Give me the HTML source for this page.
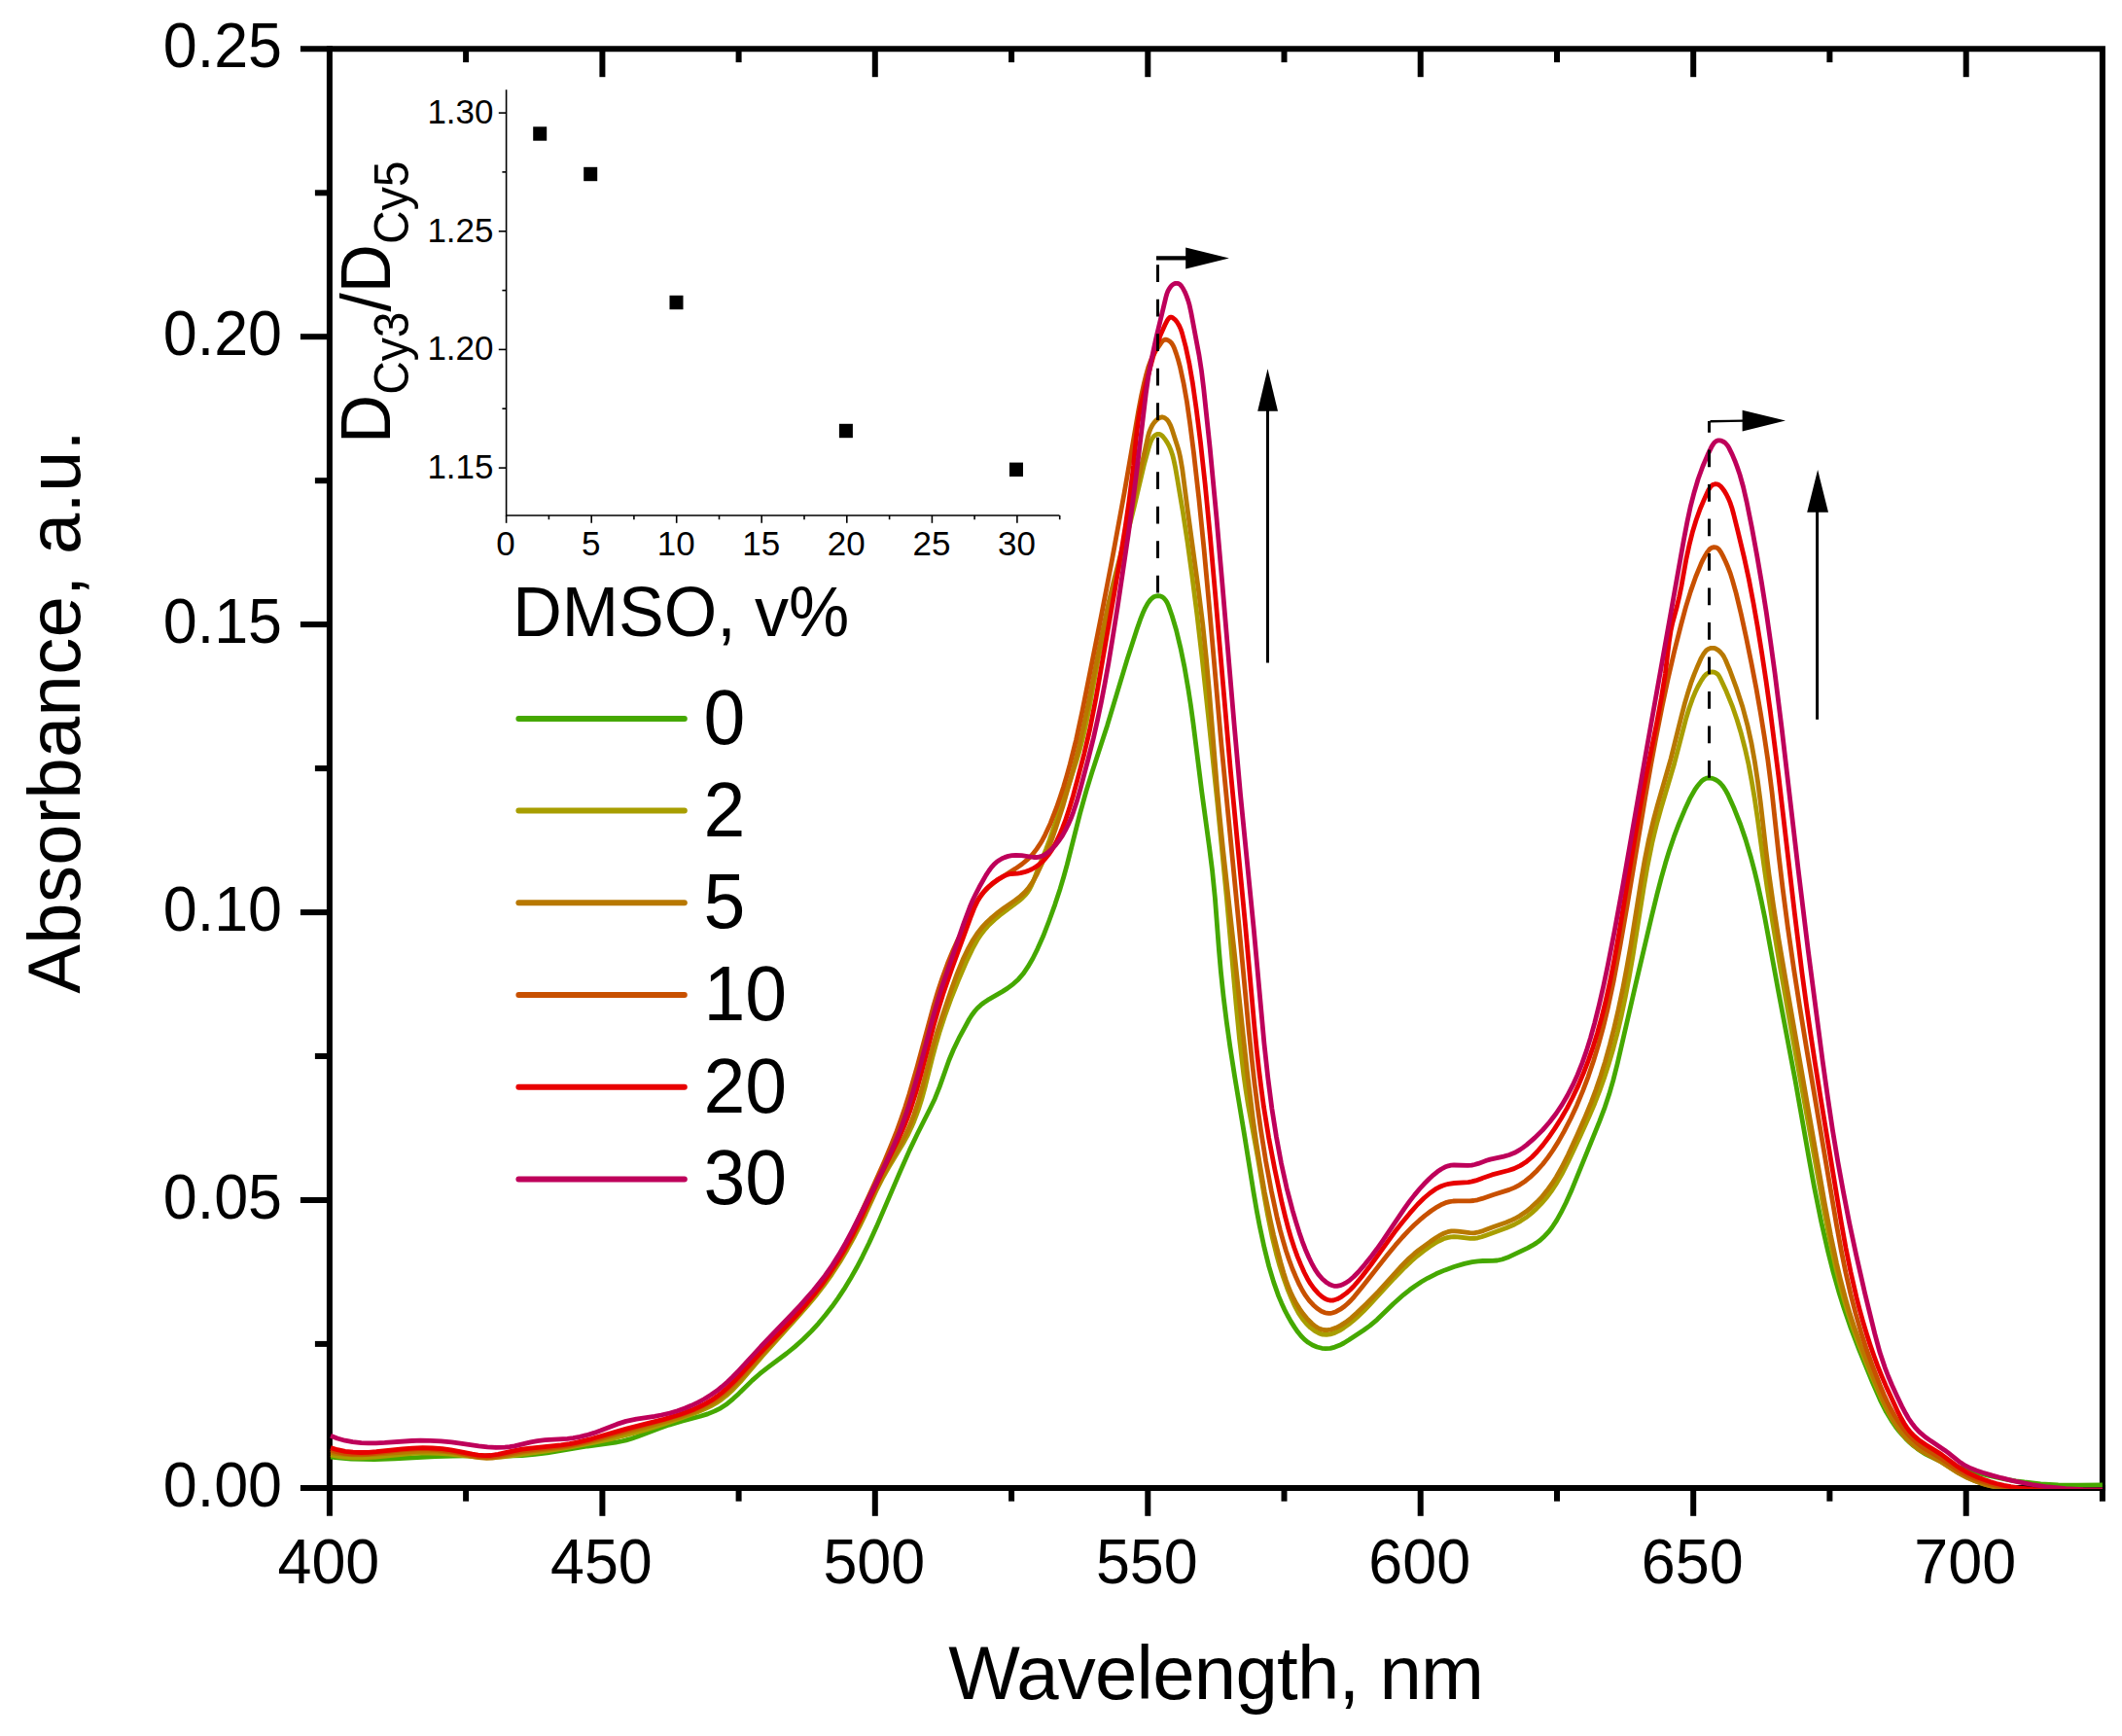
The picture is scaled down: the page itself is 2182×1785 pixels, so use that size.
<!DOCTYPE html>
<html lang="en"><head><meta charset="utf-8"><title>Absorbance spectra</title>
<style>html,body{margin:0;padding:0;background:#fff}svg{display:block}text{font-family:"Liberation Sans",Arial,Helvetica,sans-serif;fill:#000}</style></head><body>
<svg width="2182" height="1785" viewBox="0 0 2182 1785">
<rect width="2182" height="1785" fill="#fff"/>
<g stroke="#000" stroke-width="6.0" fill="none" stroke-linecap="butt">
<path d="M308.9 50.3 H2161.9 V1543.7"/>
<path d="M338.9 47.3 V1558.8"/>
<path d="M308.9 1529.9 H2164.9"/>
<path d="M479.1 1529.9 v13.8"/>
<path d="M479.1 50.3 v13.8"/>
<path d="M619.4 1529.9 v28.9"/>
<path d="M619.4 50.3 v28.9"/>
<path d="M759.6 1529.9 v13.8"/>
<path d="M759.6 50.3 v13.8"/>
<path d="M899.8 1529.9 v28.9"/>
<path d="M899.8 50.3 v28.9"/>
<path d="M1040.1 1529.9 v13.8"/>
<path d="M1040.1 50.3 v13.8"/>
<path d="M1180.3 1529.9 v28.9"/>
<path d="M1180.3 50.3 v28.9"/>
<path d="M1320.5 1529.9 v13.8"/>
<path d="M1320.5 50.3 v13.8"/>
<path d="M1460.7 1529.9 v28.9"/>
<path d="M1460.7 50.3 v28.9"/>
<path d="M1601.0 1529.9 v13.8"/>
<path d="M1601.0 50.3 v13.8"/>
<path d="M1741.2 1529.9 v28.9"/>
<path d="M1741.2 50.3 v28.9"/>
<path d="M1881.4 1529.9 v13.8"/>
<path d="M1881.4 50.3 v13.8"/>
<path d="M2021.7 1529.9 v28.9"/>
<path d="M2021.7 50.3 v28.9"/>
<path d="M338.9 1381.9 h-15.0"/>
<path d="M338.9 1234.0 h-30.0"/>
<path d="M338.9 1086.0 h-15.0"/>
<path d="M338.9 938.1 h-30.0"/>
<path d="M338.9 790.1 h-15.0"/>
<path d="M338.9 642.1 h-30.0"/>
<path d="M338.9 494.2 h-15.0"/>
<path d="M338.9 346.2 h-30.0"/>
<path d="M338.9 198.3 h-15.0"/>
</g>
<text transform="translate(337.9 1628.0) scale(1 1.04)" font-size="62.8" text-anchor="middle">400</text>
<text transform="translate(618.4 1628.0) scale(1 1.04)" font-size="62.8" text-anchor="middle">450</text>
<text transform="translate(898.8 1628.0) scale(1 1.04)" font-size="62.8" text-anchor="middle">500</text>
<text transform="translate(1179.3 1628.0) scale(1 1.04)" font-size="62.8" text-anchor="middle">550</text>
<text transform="translate(1459.7 1628.0) scale(1 1.04)" font-size="62.8" text-anchor="middle">600</text>
<text transform="translate(1740.2 1628.0) scale(1 1.04)" font-size="62.8" text-anchor="middle">650</text>
<text transform="translate(2020.7 1628.0) scale(1 1.04)" font-size="62.8" text-anchor="middle">700</text>
<text transform="translate(290.0 1548.8) scale(1 1.04)" font-size="62.8" text-anchor="end">0.00</text>
<text transform="translate(290.0 1252.9) scale(1 1.04)" font-size="62.8" text-anchor="end">0.05</text>
<text transform="translate(290.0 957.0) scale(1 1.04)" font-size="62.8" text-anchor="end">0.10</text>
<text transform="translate(290.0 661.0) scale(1 1.04)" font-size="62.8" text-anchor="end">0.15</text>
<text transform="translate(290.0 365.1) scale(1 1.04)" font-size="62.8" text-anchor="end">0.20</text>
<text transform="translate(290.0 69.2) scale(1 1.04)" font-size="62.8" text-anchor="end">0.25</text>
<text transform="translate(975.2 1746.9)" font-size="78" textLength="550.8" lengthAdjust="spacing">Wavelength, nm</text>
<text transform="translate(81.9 1021.7) rotate(-90)" font-size="76" textLength="579.3" lengthAdjust="spacing">Absorbance, a.u.</text>
<defs><clipPath id="cp"><rect x="338.9" y="50.3" width="1823.0" height="1480.4"/></clipPath></defs>
<g fill="none" stroke-width="4.8" stroke-linejoin="round" stroke-linecap="butt" clip-path="url(#cp)">
<path stroke="#45a800" d="M340.0 1498.0 L350.0 1499.1 L361.1 1500.0 L373.1 1500.4 L385.0 1500.5 L406.0 1499.9 L447.9 1497.7 L465.9 1497.0 L480.9 1496.9 L518.0 1497.0 L536.9 1496.5 L549.9 1495.4 L562.7 1493.8 L604.2 1487.0 L633.0 1483.1 L638.9 1482.0 L643.7 1480.9 L649.4 1479.2 L655.1 1477.3 L677.6 1468.7 L688.0 1465.1 L700.4 1461.4 L720.0 1456.2 L727.7 1453.9 L735.0 1450.9 L741.1 1447.8 L747.7 1443.4 L753.8 1438.3 L759.7 1432.9 L773.5 1419.4 L781.1 1412.7 L789.8 1405.9 L809.0 1391.5 L817.5 1384.6 L825.7 1377.3 L834.2 1368.9 L841.6 1360.8 L848.7 1352.3 L855.5 1343.6 L861.9 1334.6 L868.0 1325.4 L874.3 1315.1 L880.7 1303.8 L886.7 1292.3 L893.7 1278.0 L901.2 1261.6 L925.6 1204.6 L935.3 1182.6 L943.5 1165.5 L956.1 1140.5 L961.3 1129.7 L966.1 1117.6 L975.8 1090.2 L980.4 1079.2 L986.9 1065.8 L996.6 1048.0 L999.3 1043.7 L1002.3 1039.7 L1004.9 1036.7 L1008.5 1033.4 L1011.6 1031.0 L1015.8 1028.2 L1030.6 1019.6 L1035.7 1016.4 L1042.1 1011.6 L1047.2 1006.9 L1052.4 1000.9 L1056.9 994.2 L1062.0 985.5 L1066.9 975.6 L1072.6 962.8 L1078.7 947.0 L1084.8 930.1 L1090.1 913.9 L1093.8 901.5 L1097.3 888.9 L1110.5 836.6 L1116.9 813.5 L1122.8 794.4 L1138.6 745.9 L1159.1 677.9 L1168.6 648.4 L1172.5 637.2 L1175.1 630.6 L1177.6 625.1 L1180.2 620.4 L1182.7 617.0 L1184.8 614.9 L1186.4 613.8 L1188.1 613.1 L1190.8 612.6 L1192.5 612.8 L1195.1 613.8 L1196.6 614.9 L1198.5 617.0 L1200.1 619.6 L1201.4 622.4 L1205.2 633.2 L1209.5 647.7 L1213.9 666.1 L1218.1 686.6 L1221.8 708.2 L1224.4 725.0 L1227.0 743.8 L1235.8 814.4 L1243.5 870.9 L1246.5 894.6 L1249.4 923.5 L1253.4 976.4 L1255.4 999.3 L1258.1 1025.1 L1261.3 1050.9 L1264.9 1076.7 L1269.7 1107.3 L1280.0 1169.5 L1289.0 1225.8 L1292.2 1244.5 L1295.2 1260.2 L1300.0 1282.7 L1304.8 1302.1 L1309.7 1318.4 L1314.7 1332.6 L1317.8 1339.9 L1320.7 1346.3 L1323.9 1352.5 L1327.3 1358.6 L1331.1 1364.6 L1334.5 1369.6 L1337.7 1373.5 L1341.2 1377.1 L1345.1 1380.3 L1349.5 1383.0 L1354.2 1385.0 L1359.2 1386.3 L1363.1 1386.7 L1368.0 1386.3 L1372.7 1385.1 L1377.3 1383.3 L1381.8 1381.0 L1387.0 1377.8 L1402.2 1367.7 L1408.6 1363.1 L1416.1 1356.8 L1432.6 1340.7 L1443.2 1331.3 L1449.5 1326.3 L1455.2 1322.2 L1461.9 1317.8 L1467.9 1314.3 L1476.7 1309.8 L1485.9 1305.9 L1495.2 1302.5 L1505.8 1299.4 L1513.7 1297.6 L1519.7 1296.8 L1524.7 1296.5 L1534.7 1296.4 L1539.6 1296.0 L1544.4 1295.0 L1550.0 1293.1 L1571.1 1283.1 L1575.5 1280.7 L1579.7 1278.1 L1583.7 1275.2 L1588.1 1271.2 L1592.1 1266.9 L1595.8 1262.2 L1600.8 1254.6 L1605.2 1246.7 L1610.2 1236.7 L1615.6 1224.8 L1644.5 1153.6 L1650.2 1138.6 L1654.6 1125.3 L1658.8 1110.9 L1663.2 1093.5 L1682.5 1009.6 L1698.3 942.5 L1704.0 919.1 L1708.3 902.7 L1712.6 887.3 L1716.7 873.9 L1721.2 860.7 L1726.5 846.7 L1732.3 832.8 L1738.2 820.1 L1742.7 812.2 L1745.0 808.8 L1747.7 805.5 L1749.8 803.2 L1751.4 801.9 L1753.1 800.9 L1754.8 800.2 L1756.6 799.9 L1759.4 800.1 L1762.1 800.8 L1764.6 802.0 L1766.9 803.5 L1769.0 805.4 L1770.9 807.5 L1772.7 809.9 L1774.8 813.3 L1776.8 817.0 L1783.2 831.3 L1789.6 847.5 L1795.1 863.6 L1800.4 881.5 L1804.2 895.9 L1807.7 910.4 L1811.1 926.0 L1814.7 943.6 L1828.4 1017.7 L1846.0 1110.8 L1860.4 1192.6 L1865.5 1220.2 L1872.8 1256.5 L1879.9 1287.7 L1885.1 1308.1 L1890.8 1328.2 L1896.5 1346.3 L1902.7 1364.3 L1912.0 1388.6 L1925.6 1421.8 L1933.3 1439.3 L1939.6 1451.8 L1945.8 1462.0 L1949.2 1467.0 L1952.3 1470.9 L1956.2 1475.5 L1959.6 1479.2 L1964.0 1483.4 L1967.7 1486.6 L1971.7 1489.7 L1975.8 1492.5 L1980.0 1495.1 L1984.4 1497.4 L1994.4 1502.0 L2006.7 1506.4 L2025.9 1512.4 L2044.3 1517.2 L2062.8 1521.1 L2072.7 1522.8 L2081.6 1524.0 L2098.4 1525.8 L2116.4 1526.9 L2136.4 1527.2 L2162.4 1526.8"/>
<path stroke="#a89e00" d="M340.0 1496.0 L347.1 1497.4 L355.1 1498.3 L363.1 1498.8 L371.1 1498.8 L386.0 1498.0 L411.9 1495.5 L421.9 1494.7 L430.9 1494.2 L440.9 1494.1 L450.9 1494.4 L461.9 1495.1 L487.8 1497.9 L495.7 1498.5 L504.7 1498.6 L515.6 1498.0 L537.5 1495.3 L564.3 1491.6 L587.0 1487.8 L607.6 1484.0 L627.1 1479.8 L645.5 1475.2 L663.8 1470.1 L682.0 1464.5 L694.4 1460.3 L707.6 1455.6 L717.1 1452.0 L724.4 1448.9 L730.7 1445.8 L736.7 1442.4 L741.6 1439.2 L747.0 1434.9 L753.6 1428.9 L761.2 1420.9 L783.6 1394.7 L821.2 1353.0 L830.4 1342.5 L838.0 1333.4 L847.2 1321.6 L855.3 1310.3 L863.5 1297.7 L871.2 1284.7 L878.0 1272.4 L884.4 1259.8 L890.1 1248.1 L900.9 1224.5 L907.1 1212.1 L913.5 1200.8 L929.5 1174.2 L933.8 1166.3 L937.2 1159.1 L939.9 1152.7 L942.4 1146.2 L945.1 1138.6 L947.5 1131.0 L951.5 1116.5 L958.8 1087.2 L962.2 1074.6 L966.4 1060.2 L971.4 1045.0 L977.8 1027.2 L985.2 1008.6 L994.3 987.4 L1000.9 973.8 L1004.8 966.8 L1008.6 961.0 L1012.8 955.5 L1017.5 950.4 L1022.6 945.7 L1028.0 941.2 L1047.4 926.6 L1051.2 923.4 L1053.9 920.6 L1056.4 917.6 L1058.6 914.3 L1060.9 909.9 L1062.9 905.3 L1067.5 892.9 L1075.5 873.6 L1079.3 863.4 L1101.9 798.0 L1106.5 783.8 L1110.2 771.4 L1113.7 757.9 L1117.2 742.3 L1120.1 727.5 L1128.9 679.2 L1133.3 657.7 L1138.2 635.3 L1146.9 598.3 L1166.1 521.6 L1176.6 477.0 L1180.9 461.4 L1182.7 455.5 L1183.9 452.6 L1185.5 449.9 L1187.5 447.7 L1189.1 446.7 L1189.9 446.4 L1191.6 446.3 L1193.2 446.8 L1195.5 448.5 L1198.1 451.7 L1200.3 455.1 L1202.2 458.6 L1204.1 463.2 L1205.7 467.9 L1206.9 472.8 L1208.4 479.7 L1210.5 491.6 L1216.3 526.2 L1221.1 557.7 L1225.6 590.4 L1230.9 632.0 L1236.3 678.7 L1242.5 736.4 L1251.8 824.9 L1261.4 923.4 L1271.2 1034.1 L1274.6 1068.9 L1278.8 1104.7 L1281.0 1120.5 L1283.5 1136.3 L1293.2 1189.4 L1300.4 1231.8 L1303.6 1249.5 L1308.0 1271.1 L1312.5 1289.5 L1316.0 1302.1 L1319.7 1313.5 L1323.7 1324.8 L1327.9 1335.0 L1331.6 1343.2 L1335.3 1350.2 L1339.2 1356.0 L1343.1 1360.8 L1347.6 1365.2 L1351.8 1368.4 L1356.4 1370.9 L1360.1 1372.1 L1364.0 1372.4 L1367.8 1371.9 L1372.6 1370.4 L1377.3 1368.1 L1381.6 1365.4 L1386.6 1361.9 L1391.2 1358.2 L1395.7 1354.2 L1402.2 1348.0 L1408.4 1341.5 L1433.6 1314.2 L1444.7 1302.9 L1451.2 1296.7 L1457.2 1291.5 L1463.5 1286.6 L1470.1 1281.8 L1475.2 1278.5 L1479.7 1276.0 L1484.3 1273.8 L1488.1 1272.6 L1492.0 1271.8 L1494.9 1271.7 L1498.9 1271.9 L1511.8 1273.4 L1515.8 1273.4 L1519.6 1272.8 L1523.5 1271.8 L1527.3 1270.5 L1549.1 1262.5 L1557.3 1259.0 L1563.4 1255.6 L1569.2 1251.8 L1574.8 1247.4 L1580.0 1242.7 L1584.9 1237.6 L1590.2 1231.5 L1595.0 1225.1 L1599.9 1217.7 L1606.0 1207.3 L1612.3 1194.9 L1625.1 1167.7 L1633.8 1148.5 L1639.7 1134.7 L1644.8 1121.6 L1649.5 1108.5 L1654.1 1094.2 L1658.9 1078.0 L1663.2 1061.6 L1667.3 1044.1 L1671.4 1024.5 L1675.0 1005.8 L1678.8 984.1 L1690.0 913.8 L1693.9 891.2 L1698.8 866.8 L1701.3 856.1 L1704.0 845.5 L1708.3 830.1 L1721.7 785.0 L1733.8 738.5 L1737.0 728.0 L1740.3 718.7 L1742.9 712.3 L1745.9 706.0 L1749.5 699.6 L1752.5 695.2 L1754.7 693.0 L1757.2 691.6 L1760.0 690.9 L1762.7 691.2 L1764.4 691.9 L1765.9 692.9 L1767.1 694.3 L1768.7 696.9 L1775.1 710.8 L1781.2 725.8 L1786.1 740.0 L1790.4 754.3 L1794.4 769.8 L1798.1 786.3 L1801.2 803.0 L1804.2 820.7 L1807.4 842.5 L1813.9 890.1 L1817.3 913.9 L1822.9 949.5 L1829.7 989.9 L1839.3 1044.0 L1875.5 1243.8 L1881.4 1274.3 L1887.1 1300.6 L1891.6 1319.1 L1896.0 1335.5 L1900.9 1351.7 L1905.9 1366.9 L1912.1 1383.8 L1919.1 1401.5 L1930.0 1427.4 L1936.5 1442.0 L1940.1 1449.1 L1943.4 1455.3 L1946.9 1461.3 L1950.8 1467.2 L1954.9 1472.8 L1958.7 1477.4 L1962.9 1481.8 L1966.5 1485.2 L1971.2 1488.9 L1975.3 1491.7 L1979.7 1494.2 L1993.9 1501.7 L1999.0 1504.9 L2008.9 1511.5 L2013.9 1514.6 L2021.9 1518.9 L2030.2 1522.6 L2039.7 1525.9 L2049.4 1528.5 L2060.2 1530.4 L2072.0 1531.6 L2081.0 1532.1 L2091.0 1532.3 L2118.0 1532.3 L2148.0 1532.6 L2162.0 1532.5"/>
<path stroke="#b87800" d="M340.0 1493.5 L347.0 1494.6 L355.0 1495.4 L363.0 1495.8 L372.0 1495.8 L388.0 1495.2 L427.9 1492.4 L438.8 1492.0 L448.8 1492.1 L457.7 1492.7 L466.7 1493.7 L473.7 1494.9 L487.6 1497.8 L494.5 1498.9 L500.5 1499.3 L506.4 1499.0 L514.3 1497.9 L529.1 1494.8 L537.0 1493.4 L548.0 1491.9 L577.7 1488.3 L586.6 1486.8 L596.4 1484.9 L613.9 1480.7 L671.8 1465.1 L686.2 1461.0 L697.7 1457.4 L706.3 1454.5 L714.8 1451.3 L722.2 1448.2 L728.5 1445.1 L734.6 1441.7 L739.5 1438.4 L744.3 1434.9 L749.5 1430.4 L755.3 1424.9 L762.1 1417.6 L785.3 1390.9 L822.9 1349.3 L831.3 1339.4 L838.9 1330.2 L848.1 1318.4 L856.7 1306.2 L864.8 1293.5 L872.9 1279.7 L879.2 1268.2 L885.5 1255.6 L901.2 1222.2 L906.9 1210.6 L912.6 1200.0 L927.5 1173.9 L931.1 1166.8 L934.5 1159.6 L937.2 1153.2 L939.7 1146.6 L944.3 1132.4 L948.4 1118.0 L958.9 1077.1 L963.2 1062.6 L968.4 1046.4 L978.3 1017.2 L984.1 1001.3 L990.2 986.4 L995.9 974.6 L1000.3 966.7 L1004.7 960.0 L1009.6 953.7 L1015.0 948.0 L1020.1 943.3 L1026.3 938.2 L1031.9 934.0 L1043.6 925.9 L1049.2 921.6 L1053.6 917.6 L1057.5 913.2 L1062.0 906.7 L1066.3 898.8 L1072.3 886.0 L1078.1 872.2 L1082.0 861.9 L1085.6 851.5 L1093.3 827.7 L1100.7 801.8 L1107.7 774.7 L1112.9 752.3 L1118.1 727.9 L1133.7 649.4 L1139.9 620.0 L1145.7 595.7 L1156.5 554.2 L1160.9 536.7 L1180.5 448.6 L1181.6 444.7 L1183.0 441.0 L1184.8 437.4 L1186.4 435.0 L1188.3 432.7 L1190.5 430.7 L1193.0 429.3 L1194.7 428.9 L1195.6 429.0 L1197.3 429.5 L1199.6 431.1 L1201.6 433.6 L1203.6 437.4 L1205.4 442.2 L1210.3 457.4 L1212.3 464.2 L1213.6 470.0 L1215.8 482.7 L1220.9 522.4 L1232.4 606.7 L1236.8 642.4 L1240.4 677.2 L1243.6 713.0 L1251.5 810.7 L1254.3 840.6 L1257.6 873.4 L1268.8 974.8 L1278.3 1064.3 L1282.7 1104.1 L1288.7 1152.7 L1291.8 1174.5 L1294.9 1194.2 L1300.3 1225.7 L1306.3 1255.1 L1309.6 1269.8 L1313.0 1283.4 L1316.8 1297.9 L1319.9 1308.6 L1322.3 1316.2 L1325.0 1323.7 L1327.7 1330.1 L1330.3 1335.5 L1333.2 1340.8 L1336.4 1345.9 L1339.9 1350.8 L1343.8 1355.6 L1348.9 1360.8 L1352.9 1364.0 L1355.5 1365.5 L1357.2 1366.4 L1360.9 1367.5 L1364.7 1367.7 L1368.7 1367.1 L1373.7 1365.3 L1378.5 1362.9 L1383.7 1359.6 L1389.2 1355.3 L1395.1 1350.1 L1405.1 1340.5 L1417.7 1327.6 L1439.9 1303.0 L1449.0 1293.8 L1454.2 1289.2 L1458.8 1285.4 L1470.9 1276.6 L1476.9 1272.5 L1481.3 1269.9 L1485.0 1268.0 L1488.7 1266.7 L1492.5 1265.9 L1495.4 1265.8 L1499.3 1266.1 L1511.4 1267.7 L1515.4 1267.8 L1519.3 1267.2 L1525.0 1265.6 L1536.4 1261.2 L1548.7 1256.9 L1553.3 1255.1 L1557.8 1253.0 L1563.0 1250.1 L1568.9 1246.1 L1574.4 1241.6 L1580.3 1236.1 L1585.8 1230.3 L1590.8 1224.1 L1595.4 1217.7 L1600.3 1210.2 L1606.2 1199.8 L1612.5 1187.2 L1621.8 1167.1 L1630.2 1147.9 L1636.3 1133.1 L1641.2 1120.0 L1646.0 1105.9 L1650.5 1091.6 L1655.4 1074.2 L1659.8 1056.8 L1664.1 1038.2 L1668.5 1017.6 L1672.8 995.0 L1677.0 971.4 L1687.9 903.3 L1691.2 884.5 L1695.5 863.0 L1700.4 842.6 L1704.3 828.2 L1718.1 780.1 L1729.0 736.3 L1732.3 723.7 L1735.9 711.4 L1739.2 701.1 L1742.3 692.8 L1745.8 684.4 L1749.3 676.6 L1752.0 671.9 L1754.5 668.8 L1756.8 667.2 L1759.5 666.3 L1762.2 666.3 L1764.0 666.9 L1766.6 668.4 L1768.9 670.4 L1770.9 672.7 L1772.6 675.2 L1774.4 678.8 L1778.7 689.0 L1786.0 708.9 L1791.9 727.0 L1796.8 745.3 L1801.1 764.8 L1804.4 783.4 L1807.4 803.2 L1810.3 825.0 L1816.1 875.7 L1819.1 899.6 L1823.6 931.3 L1829.0 965.8 L1836.4 1009.2 L1876.2 1236.8 L1882.5 1270.3 L1888.5 1298.7 L1892.9 1317.2 L1897.5 1334.5 L1902.2 1350.8 L1907.2 1365.9 L1912.9 1381.8 L1920.1 1400.4 L1931.5 1428.4 L1938.0 1443.3 L1941.5 1450.5 L1944.8 1456.7 L1948.4 1462.7 L1951.6 1467.7 L1955.1 1472.4 L1958.8 1477.0 L1962.8 1481.2 L1967.2 1485.2 L1971.8 1488.9 L1976.0 1491.8 L1993.8 1501.8 L2012.9 1514.0 L2021.7 1518.7 L2031.0 1522.8 L2040.5 1526.1 L2050.2 1528.6 L2061.0 1530.5 L2071.9 1531.6 L2080.8 1532.1 L2090.8 1532.3 L2117.9 1532.3 L2148.9 1532.6 L2162.9 1532.4"/>
<path stroke="#c85000" d="M340.0 1491.0 L347.0 1493.0 L354.1 1494.3 L362.1 1495.1 L370.1 1495.2 L377.0 1495.0 L385.0 1494.3 L410.9 1491.2 L420.8 1490.3 L429.8 1489.8 L439.7 1489.9 L449.7 1490.6 L460.7 1492.0 L469.6 1493.5 L485.6 1496.7 L491.5 1497.7 L498.4 1498.2 L505.3 1497.9 L513.2 1496.7 L527.9 1493.5 L536.8 1491.9 L547.8 1490.5 L577.6 1487.2 L586.5 1485.8 L596.2 1483.9 L605.0 1481.8 L615.6 1479.0 L649.2 1469.2 L688.7 1458.2 L701.1 1454.4 L708.7 1451.7 L715.2 1449.1 L721.6 1446.1 L727.9 1442.8 L733.9 1439.2 L738.8 1435.9 L744.3 1431.6 L749.5 1427.0 L754.5 1422.2 L760.0 1416.5 L782.8 1391.0 L819.8 1351.3 L832.9 1336.2 L843.3 1323.0 L850.8 1312.5 L857.8 1301.6 L864.8 1289.5 L872.2 1275.2 L881.8 1255.3 L900.1 1215.1 L909.4 1194.1 L917.1 1175.7 L922.2 1162.8 L926.6 1150.6 L930.8 1138.3 L935.0 1125.0 L942.8 1098.0 L959.5 1036.0 L964.3 1019.7 L969.0 1005.5 L974.5 990.5 L980.2 976.7 L984.4 967.6 L993.3 949.6 L1000.1 934.9 L1003.9 927.9 L1007.7 922.1 L1012.1 916.8 L1016.9 911.9 L1021.5 908.1 L1026.3 904.5 L1044.3 893.1 L1050.9 888.5 L1057.0 883.4 L1059.7 880.7 L1062.9 877.0 L1065.9 873.1 L1069.2 868.2 L1071.8 863.9 L1074.6 858.6 L1080.1 846.7 L1086.3 830.7 L1089.9 820.2 L1093.7 808.8 L1097.1 797.2 L1100.3 785.7 L1106.6 760.5 L1113.1 730.3 L1132.4 633.2 L1143.2 577.2 L1156.0 507.4 L1170.8 421.7 L1173.6 407.0 L1176.4 394.3 L1178.8 384.6 L1180.7 377.9 L1182.7 372.3 L1185.1 366.8 L1188.5 360.7 L1194.4 351.8 L1196.4 349.8 L1197.9 349.1 L1198.7 349.1 L1200.4 349.5 L1202.9 351.0 L1204.4 352.4 L1206.1 355.0 L1207.4 357.7 L1209.5 363.6 L1211.6 370.3 L1213.4 377.1 L1217.0 393.7 L1220.5 413.3 L1223.6 435.1 L1227.5 465.8 L1232.8 512.6 L1238.1 565.3 L1242.5 613.1 L1255.9 765.5 L1273.5 946.6 L1284.1 1059.2 L1287.1 1088.1 L1290.0 1113.9 L1293.2 1138.7 L1296.4 1161.4 L1301.6 1193.9 L1307.3 1224.4 L1313.4 1252.9 L1316.3 1264.6 L1319.2 1275.2 L1322.3 1285.7 L1325.5 1295.2 L1328.9 1304.5 L1332.4 1312.8 L1336.1 1320.9 L1339.3 1327.0 L1342.5 1332.2 L1346.1 1337.1 L1350.3 1341.7 L1354.3 1345.3 L1358.7 1348.2 L1362.4 1349.7 L1364.3 1350.2 L1366.2 1350.4 L1368.1 1350.3 L1370.0 1350.0 L1373.8 1348.7 L1378.3 1346.2 L1381.7 1343.8 L1385.6 1340.5 L1389.2 1337.0 L1392.5 1333.3 L1400.7 1323.3 L1426.7 1290.3 L1435.0 1280.2 L1442.2 1272.0 L1448.4 1265.4 L1454.0 1259.8 L1459.9 1254.4 L1465.3 1249.9 L1471.7 1245.0 L1477.7 1241.1 L1483.0 1238.2 L1487.6 1236.3 L1490.5 1235.6 L1494.4 1235.0 L1499.3 1234.8 L1511.4 1234.9 L1515.4 1234.5 L1519.3 1233.8 L1524.1 1232.4 L1535.5 1228.5 L1551.8 1223.4 L1557.3 1221.1 L1562.6 1218.3 L1568.4 1214.4 L1574.6 1209.3 L1580.4 1203.7 L1586.4 1197.0 L1591.9 1189.9 L1597.0 1182.5 L1602.4 1173.9 L1608.3 1163.4 L1615.2 1150.0 L1621.5 1136.4 L1627.6 1121.7 L1633.2 1106.8 L1638.6 1090.8 L1643.5 1074.6 L1648.3 1057.2 L1652.8 1038.8 L1659.1 1009.3 L1665.7 973.8 L1673.3 930.3 L1691.9 818.9 L1697.6 786.4 L1702.9 758.0 L1709.1 726.6 L1715.3 697.3 L1721.6 670.0 L1728.2 643.8 L1733.4 624.4 L1738.4 608.1 L1743.7 593.0 L1749.0 580.1 L1751.1 575.6 L1753.5 571.2 L1755.7 567.6 L1757.6 565.1 L1759.0 563.8 L1760.7 563.0 L1762.4 562.6 L1764.2 562.8 L1765.9 563.4 L1767.9 565.3 L1769.6 567.8 L1771.6 571.6 L1774.3 577.2 L1776.7 582.8 L1779.2 589.4 L1781.3 596.1 L1785.3 610.4 L1790.4 631.7 L1795.5 655.2 L1800.9 681.7 L1806.0 708.3 L1810.3 732.9 L1814.3 757.6 L1817.8 781.2 L1822.1 814.9 L1829.3 881.6 L1833.1 913.4 L1838.3 953.1 L1844.6 996.6 L1850.6 1035.1 L1857.7 1078.5 L1888.6 1260.1 L1893.3 1285.7 L1898.1 1309.2 L1903.0 1330.6 L1908.2 1350.8 L1913.7 1369.9 L1919.5 1387.9 L1926.3 1406.7 L1933.3 1424.6 L1937.2 1433.9 L1940.6 1441.3 L1944.2 1448.5 L1948.1 1455.5 L1952.4 1462.3 L1956.4 1467.9 L1960.7 1473.3 L1964.7 1477.6 L1971.2 1483.6 L1975.1 1486.7 L1978.4 1489.0 L1995.8 1499.4 L2013.8 1511.7 L2019.0 1514.7 L2025.2 1517.8 L2030.7 1520.3 L2036.4 1522.5 L2042.1 1524.4 L2048.8 1526.4 L2054.7 1527.8 L2061.5 1529.2 L2074.3 1531.0 L2086.2 1532.0 L2100.2 1532.5 L2113.2 1532.6 L2145.3 1532.3 L2162.2 1532.6"/>
<path stroke="#e80000" d="M340.0 1488.6 L347.0 1490.7 L355.0 1492.3 L363.0 1493.2 L371.0 1493.5 L379.0 1493.3 L386.9 1492.7 L413.8 1489.9 L423.8 1489.1 L434.7 1488.7 L444.7 1489.0 L454.7 1489.7 L463.6 1490.9 L471.6 1492.3 L485.6 1495.2 L491.6 1496.2 L498.5 1496.7 L504.4 1496.5 L512.2 1495.3 L527.8 1491.8 L536.7 1490.2 L547.7 1488.8 L576.8 1485.9 L585.7 1484.6 L593.4 1483.1 L608.7 1479.3 L644.1 1469.1 L682.4 1459.4 L698.8 1454.5 L706.4 1451.8 L713.7 1448.9 L720.0 1446.0 L726.1 1442.9 L732.0 1439.4 L736.8 1436.1 L742.3 1431.9 L747.6 1427.3 L756.9 1418.2 L780.9 1391.9 L806.7 1365.4 L816.9 1354.6 L824.2 1346.4 L831.3 1338.0 L838.2 1329.4 L844.3 1321.5 L853.0 1309.3 L861.3 1296.7 L869.0 1283.9 L876.2 1270.7 L886.4 1250.1 L907.4 1204.6 L923.7 1171.4 L930.6 1155.9 L933.5 1148.5 L936.5 1140.1 L942.2 1122.0 L947.0 1104.6 L959.9 1055.1 L965.2 1036.8 L970.2 1020.6 L979.0 995.1 L998.7 941.5 L1002.0 933.2 L1005.0 926.9 L1007.0 923.5 L1009.1 920.2 L1011.5 917.0 L1014.1 914.0 L1017.1 911.2 L1020.2 908.5 L1026.9 903.8 L1032.2 900.9 L1036.6 899.1 L1039.4 898.5 L1046.4 898.1 L1049.4 897.7 L1053.4 896.7 L1057.3 895.4 L1061.0 893.7 L1064.4 891.7 L1067.7 889.5 L1071.4 886.3 L1074.9 882.8 L1078.0 879.0 L1080.9 874.9 L1084.0 869.8 L1086.8 864.4 L1089.4 858.9 L1092.5 851.4 L1095.4 843.9 L1099.5 831.6 L1103.5 818.2 L1107.6 802.9 L1114.9 774.8 L1118.1 761.1 L1121.0 748.4 L1127.1 717.0 L1146.2 607.7 L1152.7 569.2 L1157.3 540.6 L1160.9 515.9 L1163.7 494.1 L1165.6 478.2 L1168.4 449.3 L1169.8 437.4 L1171.4 426.5 L1173.7 414.7 L1177.3 399.1 L1182.7 377.8 L1186.1 365.4 L1189.4 354.9 L1193.7 343.5 L1198.4 333.1 L1200.3 329.4 L1201.4 327.8 L1202.6 326.6 L1203.9 326.1 L1204.6 326.2 L1206.0 326.8 L1208.2 328.6 L1210.6 331.6 L1212.6 335.0 L1214.2 338.6 L1215.5 342.5 L1219.2 356.5 L1223.0 374.3 L1226.4 394.0 L1230.3 421.5 L1234.4 454.2 L1239.2 497.9 L1244.3 550.8 L1249.6 610.6 L1265.1 789.8 L1280.8 954.1 L1289.9 1055.8 L1292.3 1079.7 L1294.6 1100.6 L1297.1 1120.4 L1299.5 1138.2 L1304.6 1169.7 L1310.8 1202.1 L1318.3 1237.4 L1321.6 1251.1 L1324.6 1262.7 L1327.7 1273.3 L1330.8 1282.8 L1334.2 1292.1 L1337.6 1300.4 L1341.2 1308.5 L1344.4 1314.7 L1347.5 1319.9 L1351.1 1324.9 L1355.3 1329.7 L1359.3 1333.2 L1361.9 1335.0 L1363.7 1335.9 L1365.5 1336.6 L1367.3 1337.0 L1369.2 1337.1 L1371.1 1337.0 L1374.9 1335.8 L1379.4 1333.3 L1384.5 1329.6 L1388.3 1326.3 L1391.8 1322.8 L1395.7 1318.3 L1400.7 1312.2 L1409.3 1301.0 L1433.9 1267.1 L1441.8 1257.0 L1449.5 1247.7 L1457.6 1238.5 L1464.2 1232.0 L1470.4 1226.7 L1476.1 1222.7 L1479.6 1220.8 L1483.1 1219.2 L1486.8 1218.0 L1489.6 1217.3 L1495.5 1216.5 L1509.7 1215.6 L1513.6 1214.9 L1517.4 1213.9 L1534.2 1207.9 L1551.0 1203.5 L1556.8 1201.6 L1563.1 1198.6 L1566.4 1196.6 L1569.7 1194.4 L1575.0 1190.0 L1580.6 1184.3 L1586.5 1177.4 L1592.6 1169.3 L1598.9 1160.1 L1605.3 1150.0 L1611.3 1139.6 L1616.8 1129.0 L1622.8 1116.4 L1628.2 1103.6 L1633.2 1090.6 L1638.1 1076.5 L1642.5 1062.1 L1646.8 1046.7 L1650.9 1030.1 L1654.9 1012.4 L1659.4 989.7 L1664.4 962.0 L1680.7 863.5 L1687.0 827.2 L1692.4 798.7 L1703.8 742.6 L1708.3 718.0 L1712.4 692.3 L1716.2 660.6 L1718.0 648.8 L1719.9 640.0 L1724.4 623.5 L1726.7 613.8 L1728.9 603.0 L1733.8 575.5 L1737.4 558.8 L1740.6 546.2 L1744.1 534.8 L1748.1 523.5 L1752.4 513.4 L1756.7 504.0 L1758.9 500.5 L1760.3 499.1 L1761.9 498.2 L1763.6 497.7 L1765.3 497.8 L1766.9 498.3 L1769.2 499.9 L1771.3 502.3 L1773.2 505.0 L1775.4 508.8 L1777.3 512.6 L1779.2 517.2 L1780.8 521.9 L1782.6 528.5 L1787.1 546.6 L1793.4 572.9 L1798.3 595.5 L1803.0 620.1 L1807.3 644.7 L1811.8 672.3 L1816.1 700.9 L1820.4 731.6 L1828.9 798.1 L1845.4 939.2 L1852.9 999.7 L1857.2 1031.4 L1861.5 1061.1 L1866.3 1092.7 L1872.3 1130.2 L1892.9 1254.6 L1898.0 1283.2 L1903.0 1307.7 L1909.0 1334.0 L1912.2 1346.5 L1915.7 1359.1 L1919.4 1371.5 L1923.1 1383.0 L1927.0 1394.3 L1930.8 1404.6 L1934.9 1414.8 L1939.2 1424.9 L1951.8 1452.2 L1955.1 1458.5 L1958.1 1463.7 L1960.8 1467.9 L1963.8 1471.8 L1968.6 1476.8 L1971.6 1479.4 L1974.7 1481.8 L1980.6 1485.7 L1996.1 1495.4 L2012.7 1507.7 L2016.9 1510.4 L2021.2 1513.0 L2026.6 1515.8 L2033.1 1518.7 L2039.7 1521.3 L2046.3 1523.6 L2053.0 1525.5 L2060.8 1527.3 L2067.6 1528.7 L2075.5 1529.9 L2090.3 1531.4 L2107.3 1532.3 L2122.4 1532.5 L2162.3 1532.5"/>
<path stroke="#be005a" d="M340.0 1476.3 L346.9 1479.0 L354.8 1481.2 L362.7 1482.7 L371.6 1483.6 L378.6 1483.9 L386.6 1483.8 L395.6 1483.4 L423.5 1481.5 L432.5 1481.2 L442.5 1481.4 L453.4 1481.9 L464.4 1482.9 L473.4 1484.1 L492.3 1486.8 L501.3 1487.8 L510.3 1488.4 L519.2 1488.2 L524.1 1487.7 L529.0 1486.9 L545.7 1482.8 L552.6 1481.6 L560.5 1480.7 L583.5 1479.4 L589.4 1478.6 L596.3 1477.4 L603.1 1475.7 L610.8 1473.4 L617.4 1471.0 L634.3 1464.4 L643.7 1461.4 L654.4 1459.1 L673.0 1456.3 L679.9 1455.0 L688.8 1453.0 L696.5 1450.7 L704.2 1448.0 L710.7 1445.3 L718.0 1441.8 L724.2 1438.5 L731.0 1434.3 L736.8 1430.3 L742.2 1426.0 L748.2 1420.8 L753.2 1416.0 L758.8 1410.3 L782.4 1384.5 L811.7 1354.0 L822.7 1342.3 L836.6 1326.5 L842.8 1318.7 L848.3 1311.6 L855.7 1301.0 L862.6 1290.1 L869.6 1278.0 L877.1 1263.9 L897.9 1222.6 L908.4 1201.1 L917.2 1182.0 L924.6 1164.6 L928.1 1155.3 L931.8 1144.9 L935.2 1134.5 L938.7 1123.0 L944.9 1100.8 L959.4 1045.6 L963.8 1030.2 L968.2 1015.9 L990.6 950.6 L994.4 940.2 L997.2 932.8 L1000.3 925.5 L1003.3 919.3 L1006.9 912.3 L1013.9 899.9 L1016.8 895.5 L1019.2 892.2 L1021.9 889.1 L1024.7 886.4 L1027.1 884.7 L1030.4 882.7 L1033.0 881.6 L1036.7 880.4 L1040.6 879.7 L1044.5 879.4 L1050.6 879.7 L1062.8 881.5 L1065.7 881.5 L1067.6 881.3 L1070.4 880.6 L1073.1 879.4 L1075.7 877.9 L1078.1 876.1 L1082.0 872.6 L1085.5 868.8 L1089.2 864.0 L1092.5 859.1 L1095.4 853.9 L1098.5 847.7 L1101.3 841.3 L1103.7 834.8 L1107.2 824.3 L1111.0 810.8 L1118.9 780.8 L1124.5 758.5 L1128.4 741.0 L1132.3 722.4 L1136.1 702.7 L1140.0 681.1 L1144.2 655.4 L1149.2 623.8 L1160.2 549.6 L1164.8 515.9 L1168.9 484.2 L1178.3 404.7 L1181.0 385.9 L1183.9 370.2 L1189.0 346.8 L1198.8 305.9 L1199.9 302.0 L1201.0 299.1 L1202.0 297.3 L1203.2 295.5 L1204.6 293.8 L1206.1 292.5 L1207.8 291.6 L1208.6 291.4 L1210.3 291.3 L1212.0 291.7 L1213.4 292.6 L1214.7 294.0 L1216.4 296.5 L1218.4 300.3 L1220.0 304.1 L1221.7 308.9 L1223.1 313.7 L1224.8 321.5 L1232.9 364.7 L1235.5 381.5 L1237.8 400.4 L1244.2 461.0 L1250.9 531.7 L1256.8 599.5 L1269.2 745.9 L1275.5 816.7 L1289.3 956.0 L1299.9 1072.6 L1303.8 1108.3 L1307.9 1140.1 L1312.4 1168.7 L1317.5 1196.2 L1323.1 1221.6 L1329.2 1244.8 L1332.6 1256.4 L1335.9 1266.9 L1339.1 1276.3 L1342.3 1284.7 L1345.9 1293.0 L1349.4 1300.2 L1352.3 1305.4 L1355.7 1310.4 L1359.7 1315.0 L1363.7 1318.4 L1366.3 1320.1 L1368.1 1321.1 L1370.0 1321.8 L1371.8 1322.3 L1374.7 1322.4 L1378.6 1321.6 L1380.5 1320.8 L1383.2 1319.4 L1387.4 1316.7 L1392.0 1312.7 L1396.9 1307.7 L1403.5 1300.1 L1410.4 1291.5 L1415.8 1284.3 L1422.1 1275.3 L1444.5 1242.2 L1449.7 1234.9 L1454.6 1228.6 L1459.7 1222.5 L1464.4 1217.3 L1469.4 1212.3 L1474.0 1208.1 L1478.0 1204.8 L1482.2 1202.0 L1485.7 1200.1 L1489.3 1198.8 L1492.2 1198.2 L1495.1 1198.0 L1509.3 1198.3 L1513.3 1198.1 L1516.2 1197.5 L1520.0 1196.4 L1528.5 1193.3 L1532.3 1192.1 L1546.2 1189.1 L1551.9 1187.5 L1557.4 1185.3 L1562.6 1182.4 L1565.9 1180.1 L1569.9 1177.1 L1578.2 1169.9 L1586.1 1162.1 L1593.4 1153.7 L1600.1 1145.0 L1606.2 1135.9 L1611.7 1126.5 L1617.2 1115.9 L1622.2 1105.0 L1627.0 1092.9 L1631.3 1080.6 L1635.5 1067.1 L1639.8 1051.6 L1644.4 1033.1 L1648.9 1013.5 L1653.2 993.0 L1660.3 956.7 L1668.4 912.5 L1693.5 768.6 L1731.6 554.0 L1735.0 536.3 L1738.1 521.7 L1742.1 506.2 L1746.1 492.8 L1750.9 479.5 L1756.1 467.4 L1760.1 459.1 L1761.7 456.6 L1762.8 455.1 L1764.8 453.5 L1766.3 452.9 L1768.0 452.8 L1769.9 453.1 L1772.7 454.5 L1774.3 455.7 L1776.3 458.0 L1777.9 460.6 L1781.1 467.1 L1783.9 473.7 L1786.4 480.4 L1789.0 488.0 L1792.5 500.5 L1796.1 516.1 L1801.4 542.5 L1806.8 572.0 L1811.5 599.5 L1816.2 629.1 L1820.6 659.8 L1825.1 692.5 L1832.4 751.1 L1849.0 893.2 L1859.3 977.5 L1874.1 1090.5 L1879.4 1128.2 L1884.4 1161.8 L1889.8 1194.4 L1895.5 1225.8 L1901.6 1257.2 L1908.7 1290.5 L1917.8 1330.5 L1927.8 1371.4 L1933.0 1390.6 L1938.1 1405.8 L1941.6 1415.0 L1945.5 1424.2 L1950.5 1435.2 L1955.7 1446.1 L1959.5 1453.3 L1962.5 1458.5 L1965.9 1463.4 L1968.9 1467.3 L1973.6 1472.4 L1979.6 1477.5 L1985.4 1481.6 L1999.7 1491.2 L2003.7 1494.2 L2014.6 1502.9 L2017.8 1505.1 L2021.2 1507.2 L2026.6 1509.8 L2032.2 1512.0 L2038.9 1514.2 L2048.6 1517.1 L2058.2 1519.7 L2068.8 1522.3 L2079.6 1524.6 L2089.4 1526.5 L2106.3 1529.0 L2124.2 1530.7 L2142.1 1531.6 L2162.1 1531.8"/>
</g>
<g stroke="#000" stroke-width="3" fill="none">
<path d="M1190.5 609.6 V271.8" stroke-dasharray="17.8 17.7"/>
<path d="M1757.5 799.7 V433.1" stroke-dasharray="17.8 17.7"/>
<path d="M1189 265.4 H1222" stroke-width="4.3"/>
<path d="M1758.5 433.2 L1794 432.6" stroke-width="2.4"/>
<path d="M1303.5 681.5 V420"/>
<path d="M1868.6 739.8 V524"/>
</g>
<g fill="#000">
<path d="M1263.9 265.5 L1219.2 254.6 V276.4 Z"/>
<path d="M1836 432.5 L1791.6 421.8 V443.6 Z"/>
<path d="M1303.5 379.2 L1293.2 422.8 H1314 Z"/>
<path d="M1869.1 482.9 L1858.2 526.7 H1880 Z"/>
</g>
<g stroke-width="6" stroke-linecap="round">
<path d="M533.4 738.9 H703.8" stroke="#45a800"/>
<path d="M533.4 833.6 H703.8" stroke="#a89e00"/>
<path d="M533.4 928.3 H703.8" stroke="#b87800"/>
<path d="M533.4 1023.0 H703.8" stroke="#c85000"/>
<path d="M533.4 1117.7 H703.8" stroke="#e80000"/>
<path d="M533.4 1212.4 H703.8" stroke="#be005a"/>
</g>
<text transform="translate(723.4 764.9) scale(1 1.04)" font-size="77">0</text>
<text transform="translate(723.4 859.6) scale(1 1.04)" font-size="77">2</text>
<text transform="translate(723.4 954.3) scale(1 1.04)" font-size="77">5</text>
<text transform="translate(723.4 1049.0) scale(1 1.04)" font-size="77">10</text>
<text transform="translate(723.4 1143.7) scale(1 1.04)" font-size="77">20</text>
<text transform="translate(723.4 1238.4) scale(1 1.04)" font-size="77">30</text>
<text transform="translate(527.2 653.6) scale(1 1.04)" font-size="70">DMSO, v%</text>
<g stroke="#000" stroke-width="1.6" fill="none">
<path d="M520.6 92.2 V530.0 H1089.5"/>
<path d="M520.6 530.0 v7.8"/>
<path d="M564.4 530.0 v4.2"/>
<path d="M608.2 530.0 v7.8"/>
<path d="M651.9 530.0 v4.2"/>
<path d="M695.7 530.0 v7.8"/>
<path d="M739.5 530.0 v4.2"/>
<path d="M783.2 530.0 v7.8"/>
<path d="M827.0 530.0 v4.2"/>
<path d="M870.8 530.0 v7.8"/>
<path d="M914.6 530.0 v4.2"/>
<path d="M958.4 530.0 v7.8"/>
<path d="M1002.1 530.0 v4.2"/>
<path d="M1045.9 530.0 v7.8"/>
<path d="M1089.7 530.0 v4.2"/>
<path d="M520.6 116.1 h-7.8"/>
<path d="M520.6 176.9 h-4.2"/>
<path d="M520.6 237.8 h-7.8"/>
<path d="M520.6 298.6 h-4.2"/>
<path d="M520.6 359.4 h-7.8"/>
<path d="M520.6 420.2 h-4.2"/>
<path d="M520.6 481.1 h-7.8"/>
</g>
<text transform="translate(520.1 570.5) scale(1 0.99)" font-size="35" text-anchor="middle">0</text>
<text transform="translate(607.7 570.5) scale(1 0.99)" font-size="35" text-anchor="middle">5</text>
<text transform="translate(695.2 570.5) scale(1 0.99)" font-size="35" text-anchor="middle">10</text>
<text transform="translate(782.8 570.5) scale(1 0.99)" font-size="35" text-anchor="middle">15</text>
<text transform="translate(870.3 570.5) scale(1 0.99)" font-size="35" text-anchor="middle">20</text>
<text transform="translate(957.9 570.5) scale(1 0.99)" font-size="35" text-anchor="middle">25</text>
<text transform="translate(1045.4 570.5) scale(1 0.99)" font-size="35" text-anchor="middle">30</text>
<text transform="translate(507.5 126.8) scale(1 0.99)" font-size="35" text-anchor="end">1.30</text>
<text transform="translate(507.5 248.5) scale(1 0.99)" font-size="35" text-anchor="end">1.25</text>
<text transform="translate(507.5 370.1) scale(1 0.99)" font-size="35" text-anchor="end">1.20</text>
<text transform="translate(507.5 491.8) scale(1 0.99)" font-size="35" text-anchor="end">1.15</text>
<text transform="translate(401.3 456) rotate(-90) scale(1 1.04)" font-size="69.5">D<tspan font-size="48" dy="18.1">Cy3</tspan><tspan dy="-18.1">/D</tspan><tspan font-size="48" dy="18.1">Cy5</tspan></text>
<g fill="#000">
<rect x="548.2" y="130.3" width="14" height="14.4"/>
<rect x="600.2" y="171.8" width="14" height="14.4"/>
<rect x="688.5" y="303.8" width="14" height="14.4"/>
<rect x="862.9" y="435.8" width="14" height="14.4"/>
<rect x="1038.0" y="475.6" width="14" height="14.4"/>
</g>
</svg></body></html>
